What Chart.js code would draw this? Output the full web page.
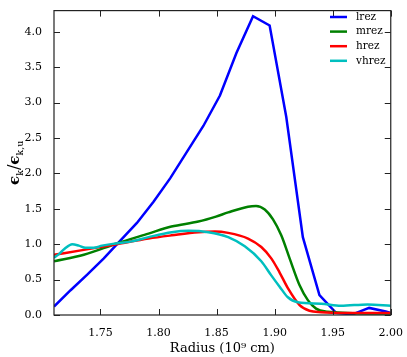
<!DOCTYPE html>
<html>
<head>
<meta charset="utf-8">
<script src="https://cdn.jsdelivr.net/npm/chart.js@4/dist/chart.umd.min.js"></script>
<style>
  html, body { margin: 0; padding: 0; background: #fff; }
  #wrap { width: 407px; height: 357px; }
</style>
</head>
<body>
<div id="wrap"><canvas id="grafico"></canvas></div>
<script>
// radius in 10^9 cm, values are eps_k / eps_k,u
const lrezR = [1.71, 1.7243, 1.7386, 1.7529, 1.7671, 1.7814, 1.7957, 1.81, 1.8243, 1.8386, 1.8529, 1.8671, 1.8814, 1.8957, 1.91, 1.9243, 1.9386, 1.9529, 1.9671, 1.9814, 1.9957, 2.0];
const lrezE = [0.12, 0.35, 0.57, 0.80, 1.05, 1.30, 1.60, 1.93, 2.30, 2.67, 3.10, 3.70, 4.22, 4.09, 2.80, 1.10, 0.28, 0.03, 0.01, 0.10, 0.05, 0.03];

const mrezR = [1.71, 1.7357, 1.764, 1.7914, 1.8111, 1.8343, 1.8495, 1.86, 1.8771, 1.884, 1.8915, 1.8986, 1.9057, 1.9129, 1.9215, 1.9286, 1.9357, 1.9457, 1.9629, 2.0];
const mrezE = [0.76, 0.85, 1.01, 1.15, 1.25, 1.32, 1.39, 1.45, 1.53, 1.54, 1.49, 1.35, 1.125, 0.80, 0.42, 0.21, 0.09, 0.045, 0.03, 0.02];

const hrezR = [1.71, 1.7357, 1.764, 1.7914, 1.8114, 1.8343, 1.8486, 1.86, 1.8771, 1.8885, 1.8971, 1.9043, 1.9114, 1.9215, 1.93, 1.94, 1.96, 2.0];
const hrezE = [0.85, 0.92, 1.00, 1.08, 1.125, 1.17, 1.18, 1.16, 1.08, 0.96, 0.80, 0.60, 0.38, 0.14, 0.06, 0.04, 0.03, 0.03];

const vhrezR = [1.71, 1.7143, 1.7194, 1.7257, 1.7314, 1.7371, 1.7443, 1.7514, 1.7629, 1.7769, 1.7914, 1.8114, 1.8257, 1.8429, 1.86, 1.8743, 1.8885, 1.8971, 1.9043, 1.9114, 1.92, 1.94, 1.9571, 1.98, 2.0];
const vhrezE = [0.81, 0.86, 0.94, 1.00, 0.98, 0.95, 0.95, 0.98, 1.01, 1.04, 1.10, 1.17, 1.19, 1.17, 1.10, 0.97, 0.76, 0.56, 0.40, 0.25, 0.18, 0.16, 0.13, 0.15, 0.13];

const nomes = ['lrez', 'mrez', 'hrez', 'vhrez'];
const cores = ['#0000ff', '#008000', '#ff0000', '#00bfbf'];
const xTicks = [1.75, 1.80, 1.85, 1.90, 1.95, 2.00];
const yTicks = [0.0, 0.5, 1.0, 1.5, 2.0, 2.5, 3.0, 3.5, 4.0];

const serie = (rs, es) => rs.map((r, i) => ({ x: r, y: es[i] }));
const series = [serie(lrezR, lrezE), serie(mrezR, mrezE), serie(hrezR, hrezE), serie(vhrezR, vhrezE)];

const FONTE = "'DejaVu Serif', serif";

// ticks pointing inward on all four sides, plus the frame
const molduraPlugin = {
    id: 'moldura',
    afterDraw(chart) {
        const { ctx, chartArea: a, scales } = chart;
        const tl = 6;
        ctx.save();
        ctx.strokeStyle = '#222';
        ctx.lineWidth = 1;
        xTicks.forEach((v) => {
            const px = Math.round(scales.x.getPixelForValue(v)) + 0.5;
            ctx.beginPath();
            ctx.moveTo(px, a.bottom); ctx.lineTo(px, a.bottom - tl);
            ctx.moveTo(px, a.top); ctx.lineTo(px, a.top + tl);
            ctx.stroke();
        });
        yTicks.forEach((v) => {
            const py = Math.round(scales.y.getPixelForValue(v)) + 0.5;
            ctx.beginPath();
            ctx.moveTo(a.left, py); ctx.lineTo(a.left + tl, py);
            ctx.moveTo(a.right, py); ctx.lineTo(a.right - tl, py);
            ctx.stroke();
        });
        ctx.lineWidth = 1.2;
        ctx.strokeRect(a.left, a.top, a.right - a.left, a.bottom - a.top);

        // legend, upper right inside the axes
        ctx.font = '10.5px ' + FONTE;
        ctx.textBaseline = 'middle';
        ctx.fillStyle = '#000';
        chart.data.datasets.forEach((ds, i) => {
            const y = 17 + i * 14.6;
            ctx.strokeStyle = ds.borderColor;
            ctx.lineWidth = 2.5;
            ctx.beginPath();
            ctx.moveTo(330, y); ctx.lineTo(347, y);
            ctx.stroke();
            ctx.fillText(ds.label, 356, y);
        });

        // y label with subscripts
        ctx.translate(15, (a.top + a.bottom) / 2);
        ctx.rotate(-Math.PI / 2);
        const partes = [
            ['ϵ', 'bold 15px ' + FONTE, 0],
            ['k', '9.5px ' + FONTE, 4],
            ['/', '16px ' + FONTE, 0],
            ['ϵ', 'bold 15px ' + FONTE, 0],
            ['k,u', '9.5px ' + FONTE, 4]
        ];
        let total = 0;
        partes.forEach((p) => { ctx.font = p[1]; total += ctx.measureText(p[0]).width; });
        let x0 = -total / 2;
        ctx.textBaseline = 'alphabetic';
        partes.forEach((p) => {
            ctx.font = p[1];
            ctx.fillText(p[0], x0, 4 + p[2]);
            x0 += ctx.measureText(p[0]).width;
        });
        ctx.restore();
    }
};

const ctxGrafico = document.getElementById('grafico').getContext('2d');
const grafico = new Chart(ctxGrafico, {
    type: 'line',
    data: {
        datasets: series.map((d, i) => ({
            label: nomes[i],
            data: d,
            borderColor: cores[i],
            backgroundColor: cores[i],
            borderWidth: 2.5,
            pointRadius: 0,
            fill: false,
            cubicInterpolationMode: i === 0 ? 'default' : 'monotone',
            tension: i === 0 ? 0 : 0.4,
            order: 3 - i
        }))
    },
    options: {
        responsive: true,
        maintainAspectRatio: false,
        animation: false,
        layout: { padding: { top: 3, right: 14, left: 0, bottom: 0 } },
        plugins: {
            legend: { display: false },
            tooltip: { enabled: false }
        },
        scales: {
            x: {
                type: 'linear',
                min: 1.71,
                max: 2.0,
                afterBuildTicks: (s) => { s.ticks = xTicks.map((v) => ({ value: v })); },
                afterFit: (s) => { s.height = 42; },
                grid: { display: false },
                border: { display: false },
                ticks: {
                    color: '#000',
                    font: { family: FONTE, size: 11 },
                    padding: 4,
                    maxRotation: 0,
                    callback: (v) => v.toFixed(2)
                },
                title: {
                    display: true,
                    text: 'Radius (10⁹ cm)',
                    color: '#000',
                    font: { family: FONTE, size: 13 },
                    padding: { top: 4, bottom: 1 }
                }
            },
            y: {
                type: 'linear',
                min: 0,
                max: 4.3,
                afterBuildTicks: (s) => { s.ticks = yTicks.map((v) => ({ value: v })); },
                afterFit: (s) => { s.width = 54; },
                grid: { display: false },
                border: { display: false },
                ticks: {
                    color: '#000',
                    font: { family: FONTE, size: 11 },
                    padding: 4,
                    callback: (v) => v.toFixed(1)
                }
            }
        }
    },
    plugins: [molduraPlugin]
});
</script>
</body>
</html>
